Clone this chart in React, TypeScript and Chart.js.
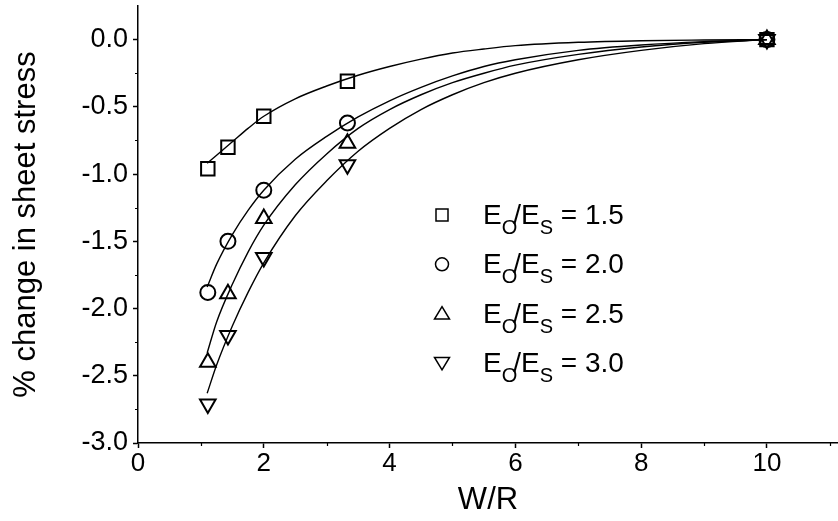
import React, { useEffect, useRef } from 'react';
import { Chart, registerables } from 'chart.js';

Chart.register(...registerables);

// Measured points: W/R vs % change in sheet stress
const wr = [1.11, 1.43, 2.0, 3.33, 10];
const ratio15 = [-0.96, -0.8, -0.57, -0.31, 0];
const ratio20 = [-1.88, -1.5, -1.12, -0.62, 0];
const ratio25 = [-2.4, -1.89, -1.33, -0.77, 0];
const ratio30 = [-2.71, -2.2, -1.62, -0.93, 0];

// Fitted curves
const fitX = [1.1, 1.25, 1.5, 1.75, 2, 2.5, 3, 3.5, 4, 4.5, 5, 5.5, 6, 7, 8, 9, 10];
const fit15 = [-0.92, -0.86, -0.76, -0.66, -0.57, -0.44, -0.345, -0.265, -0.2, -0.145, -0.1, -0.07, -0.045, -0.02, -0.008, -0.003, 0];
const fit20 = [-1.84, -1.67, -1.45, -1.27, -1.12, -0.89, -0.72, -0.575, -0.455, -0.355, -0.27, -0.2, -0.15, -0.08, -0.04, -0.015, 0];
const fit25 = [-2.33, -2.1, -1.82, -1.58, -1.38, -1.08, -0.85, -0.66, -0.52, -0.41, -0.32, -0.25, -0.19, -0.11, -0.055, -0.02, 0];
const fit30 = [-2.63, -2.42, -2.13, -1.88, -1.66, -1.31, -1.05, -0.83, -0.66, -0.52, -0.41, -0.32, -0.25, -0.15, -0.08, -0.03, 0];

const legendValues = ['1.5', '2.0', '2.5', '3.0'];
const xTicks = [0, 2, 4, 6, 8, 10];
const yTicks = [-3, -2.5, -2, -1.5, -1, -0.5, 0];
const xMinorTicks = [1, 3, 5, 7, 9, 11];
const yMinorTicks = [-2.75, -2.25, -1.75, -1.25, -0.75, -0.25];

const FONT = "'Liberation Sans', Arial, sans-serif";

const toXY = (xs: number[], ys: number[]) => xs.map((x, i) => ({ x, y: ys[i] }));

const curve = (ys: number[]) => ({
  data: toXY(fitX, ys),
  showLine: true,
  pointRadius: 0,
  borderColor: '#000',
  borderWidth: 1.4,
  cubicInterpolationMode: 'monotone' as const,
  fill: false,
});

const markers = (ys: number[], style: string, radius: number, rotation = 0) => ({
  data: toXY(wr, ys),
  showLine: false,
  pointStyle: style,
  pointRadius: radius,
  pointRotation: rotation,
  pointBorderColor: '#000',
  pointBackgroundColor: 'rgba(0,0,0,0)',
  pointBorderWidth: 2,
  borderColor: '#000',
  backgroundColor: 'rgba(0,0,0,0)',
});

const minorTicksPlugin = {
  id: 'minorTicks',
  afterDraw(chart: any) {
    const ctx = chart.ctx;
    const xs = chart.scales.x;
    const ys = chart.scales.y;
    ctx.save();
    ctx.strokeStyle = '#000';
    ctx.lineWidth = 1.2;
    ctx.beginPath();
    xMinorTicks.forEach((v) => {
      const px = Math.round(xs.getPixelForValue(v)) + 0.5;
      ctx.moveTo(px, ys.bottom);
      ctx.lineTo(px, ys.bottom + 3);
    });
    yMinorTicks.forEach((v) => {
      const py = Math.round(ys.getPixelForValue(v)) + 0.5;
      ctx.moveTo(xs.left, py);
      ctx.lineTo(xs.left - 3, py);
    });
    ctx.stroke();
    ctx.restore();
  },
};

const legendPlugin = {
  id: 'ratioLegend',
  afterDraw(chart: any) {
    const ctx = chart.ctx;
    ctx.save();
    ctx.strokeStyle = '#000';
    ctx.fillStyle = '#000';
    ctx.lineWidth = 1.5;
    const mx = 442;
    legendValues.forEach((val, i) => {
      const cy = 215 + i * 49.3;
      ctx.beginPath();
      if (i === 0) {
        ctx.rect(mx - 6, cy - 6, 12, 12);
      } else if (i === 1) {
        ctx.arc(mx, cy, 6.5, 0, Math.PI * 2);
      } else if (i === 2) {
        ctx.moveTo(mx, cy - 7);
        ctx.lineTo(mx + 7.5, cy + 5.5);
        ctx.lineTo(mx - 7.5, cy + 5.5);
        ctx.closePath();
      } else {
        ctx.moveTo(mx, cy + 7);
        ctx.lineTo(mx + 7.5, cy - 5.5);
        ctx.lineTo(mx - 7.5, cy - 5.5);
        ctx.closePath();
      }
      ctx.stroke();

      const base = cy + 9;
      let x = 483;
      ctx.textBaseline = 'alphabetic';
      ctx.textAlign = 'left';
      const main = `28px ${FONT}`;
      const sub = `20px ${FONT}`;
      ctx.font = main;
      ctx.fillText('E', x, base);
      x += ctx.measureText('E').width;
      ctx.font = sub;
      ctx.fillText('O', x, base + 10);
      x += ctx.measureText('O').width - 4;
      ctx.font = main;
      ctx.fillText('/', x, base);
      x += ctx.measureText('/').width;
      ctx.fillText('E', x, base);
      x += ctx.measureText('E').width;
      ctx.font = sub;
      ctx.fillText('S', x, base + 10);
      x += ctx.measureText('S').width;
      ctx.font = main;
      ctx.fillText(' = ' + val, x, base);
    });
    ctx.restore();
  },
};

export default function App() {
  const ref = useRef<HTMLCanvasElement>(null);
  useEffect(() => {
    document.body.style.margin = '0';
    const chart = new Chart(ref.current as HTMLCanvasElement, {
      type: 'scatter',
      data: {
        datasets: [
          curve(fit15),
          curve(fit20),
          curve(fit25),
          curve(fit30),
          markers(ratio15, 'rect', 9.5),
          markers(ratio20, 'circle', 7.5),
          markers(ratio25, 'triangle', 9),
          markers(ratio30, 'triangle', 9, 180),
        ] as any,
      },
      options: {
        responsive: false,
        devicePixelRatio: 1,
        animation: false,
        layout: { autoPadding: false, padding: { top: 6, right: 0, left: 0, bottom: 0 } },
        plugins: {
          legend: { display: false },
          tooltip: { enabled: false },
        },
        scales: {
          x: {
            type: 'linear',
            min: 0,
            max: 11.13,
            afterBuildTicks: (scale: any) => {
              scale.ticks = xTicks.map((v) => ({ value: v }));
            },
            afterFit: (scale: any) => {
              scale.height = 78;
              scale.paddingLeft = 0;
              scale.paddingRight = 0;
            },
            ticks: {
              color: '#000',
              font: { family: FONT, size: 26 },
              padding: 0,
              maxRotation: 0,
              autoSkip: false,
              callback: (v: any) => String(v),
            },
            grid: {
              drawOnChartArea: false,
              drawTicks: true,
              tickLength: 5,
              tickColor: '#000',
              tickWidth: 1.5,
            },
            border: { display: true, color: '#000', width: 1.5 },
            title: {
              display: true,
              text: 'W/R',
              color: '#000',
              font: { family: FONT, size: 31 },
              padding: { top: 0, bottom: 2 },
            },
          },
          y: {
            type: 'linear',
            min: -3,
            max: 0.25,
            afterBuildTicks: (scale: any) => {
              scale.ticks = yTicks.map((v) => ({ value: v }));
            },
            afterFit: (scale: any) => {
              scale.width = 138;
              scale.paddingTop = 0;
              scale.paddingBottom = 0;
            },
            ticks: {
              color: '#000',
              font: { family: FONT, size: 27 },
              padding: 5,
              autoSkip: false,
              callback: (v: any) => Number(v).toFixed(1),
            },
            grid: {
              drawOnChartArea: false,
              drawTicks: true,
              tickLength: 5,
              tickColor: '#000',
              tickWidth: 1.5,
            },
            border: { display: true, color: '#000', width: 1.5 },
            title: {
              display: true,
              text: '% change in sheet stress',
              color: '#000',
              font: { family: FONT, size: 31 },
              padding: { top: 8, bottom: 0 },
            },
          },
        },
      },
      plugins: [minorTicksPlugin, legendPlugin],
    } as any);
    return () => chart.destroy();
  }, []);
  return (
    <div style={{ width: 838, height: 521 }}>
      <canvas ref={ref} width={838} height={521} style={{ display: 'block' }} />
    </div>
  );
}
